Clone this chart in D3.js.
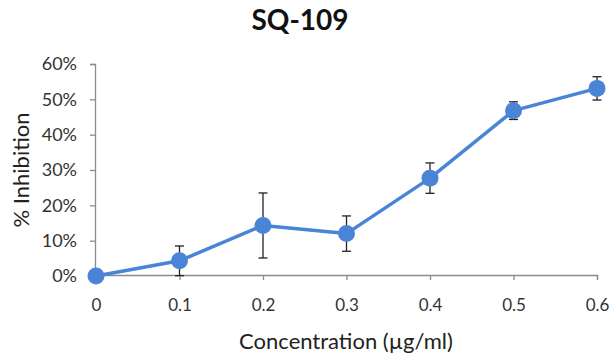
<!DOCTYPE html>
<html>
<head>
<meta charset="utf-8">
<script src="https://cdn.jsdelivr.net/npm/d3@7"></script>
<style>
  html, body { margin: 0; padding: 0; background: #fff; }
  svg { display: block; }
</style>
</head>
<body>
<svg id="chart" width="612" height="357"></svg>
<script>
// Dose-response data for SQ-109
const concentrations = [0, 0.1, 0.2, 0.3, 0.4, 0.5, 0.6];
const inhibition = [0.0, 4.3, 14.3, 12.0, 27.7, 46.8, 53.1];   // mean % inhibition
const errors = [0, 4.2, 9.2, 5.0, 4.3, 2.5, 3.3];              // ± error
const xTicks = [0, 0.1, 0.2, 0.3, 0.4, 0.5, 0.6];
const yTicks = [0, 10, 20, 30, 40, 50, 60];

const font = "Lato, 'Open Sans', sans-serif";
const blue = "#4a84d6";

const svg = d3.select("#chart");
const margin = { left: 96, right: 15, top: 64, bottom: 81 };
const W = 612, H = 357;

const x = d3.scaleLinear().domain([0, 0.6]).range([margin.left, W - margin.right]);
const y = d3.scaleLinear().domain([0, 60]).range([H - margin.bottom, margin.top]);

// Title
svg.append("text")
  .attr("x", 300).attr("y", 30)
  .attr("text-anchor", "middle")
  .style("font-family", font).style("font-weight", "bold").style("font-size", "28px")
  .attr("fill", "#111")
  .text("SQ-109");

// Y axis
const yAxis = svg.append("g")
  .attr("transform", `translate(${x(0) - 1},0)`)
  .call(d3.axisLeft(y).tickValues(yTicks).tickSize(5).tickPadding(13)
    .tickFormat(d => d + "%"));
yAxis.select(".domain").attr("stroke", "#8c8c8c").attr("stroke-width", 1.3);
yAxis.selectAll(".tick line").attr("stroke", "#8c8c8c").attr("stroke-width", 1.3);
yAxis.selectAll(".tick text")
  .style("font-family", font).style("font-size", "18px").attr("fill", "#333");

// X axis
const xAxis = svg.append("g")
  .attr("transform", `translate(0,${y(0) - 1})`)
  .call(d3.axisBottom(x).tickValues(xTicks).tickSize(5).tickPadding(19)
    .tickFormat(d => d === 0 ? "0" : d3.format(".1f")(d)));
xAxis.select(".domain").attr("stroke", "#8c8c8c").attr("stroke-width", 1.3);
xAxis.selectAll(".tick line").attr("stroke", "#8c8c8c").attr("stroke-width", 1.3);
xAxis.selectAll(".tick text")
  .style("font-family", font).style("font-size", "17px").attr("fill", "#333");

// Axis titles
svg.append("text")
  .attr("x", 346).attr("y", 349)
  .attr("text-anchor", "middle")
  .style("font-family", font).style("font-size", "22px")
  .attr("fill", "#222")
  .text("Concentration (µg/ml)");

svg.append("text")
  .attr("transform", "translate(29,170) rotate(-90)")
  .attr("text-anchor", "middle")
  .style("font-family", font).style("font-size", "22px")
  .attr("fill", "#222")
  .text("% Inhibition");

const data = concentrations.map((c, i) => ({ c, v: inhibition[i], e: errors[i] }));

// Connecting line
svg.append("path")
  .datum(data)
  .attr("fill", "none")
  .attr("stroke", blue)
  .attr("stroke-width", 3.5)
  .attr("stroke-linejoin", "round")
  .attr("d", d3.line().x(d => x(d.c)).y(d => y(d.v)));

// Error bars
const eb = svg.append("g").attr("stroke", "#222").attr("stroke-width", 1.3);
data.filter(d => d.e > 0).forEach(d => {
  const cx = x(d.c);
  eb.append("line").attr("x1", cx).attr("x2", cx).attr("y1", y(d.v + d.e)).attr("y2", y(d.v - d.e));
  eb.append("line").attr("x1", cx - 4.5).attr("x2", cx + 4.5).attr("y1", y(d.v + d.e)).attr("y2", y(d.v + d.e));
  eb.append("line").attr("x1", cx - 4.5).attr("x2", cx + 4.5).attr("y1", y(d.v - d.e)).attr("y2", y(d.v - d.e));
});

// Markers
svg.append("g").selectAll("circle")
  .data(data)
  .join("circle")
  .attr("cx", d => x(d.c))
  .attr("cy", d => y(d.v))
  .attr("r", 8.5)
  .attr("fill", blue);
</script>
</body>
</html>
